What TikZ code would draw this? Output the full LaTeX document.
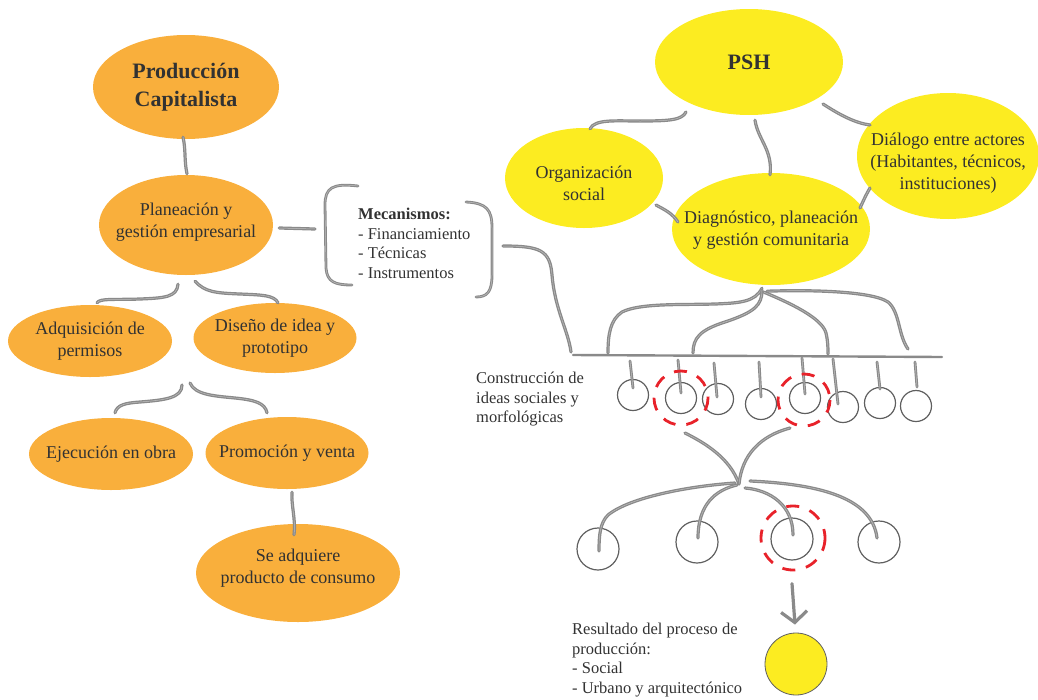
\documentclass[tikz,border=0pt]{standalone}
\usepackage{fontspec}
\setmainfont{Liberation Serif}
\usetikzlibrary{shapes.geometric,calc,arrows.meta}
\definecolor{ocre}{RGB}{249,175,60}
\definecolor{limon}{RGB}{252,236,33}
\definecolor{tinta}{RGB}{50,50,50}
\definecolor{pincel}{RGB}{138,138,138}
\definecolor{rojo}{RGB}{232,34,42}
\definecolor{aro}{RGB}{95,95,95}

\begin{document}
\begin{tikzpicture}[x=1pt,y=-1pt,
  globo/.style={ellipse, inner sep=0pt},
  globoN/.style={globo, fill=ocre},
  globoY/.style={globo, fill=limon},
  rotulo/.style={align=center, text=tinta, inner sep=0pt, font=\fontsize{18}{22}\selectfont},
  titulo/.style={align=center, text=tinta, inner sep=0pt, font=\fontsize{22}{28}\selectfont\bfseries},
  nota/.style={align=left, text=tinta, inner sep=0pt, anchor=north west, font=\fontsize{16.5}{19.5}\selectfont},
  brush/.style={draw=pincel, line width=3.2pt, line cap=round, line join=round,
    postaction={draw=white, line width=0.5pt, opacity=0.45}},
  flecha/.style={draw=pincel, line width=3.2pt, line cap=round, line join=round,
    -{Straight Barb[length=11pt,width=26pt]}},
  tallo/.style={brush, line width=2.8pt},
  barra/.style={draw=pincel, line width=2.4pt, line cap=round},
  punto/.style={circle, draw=aro, line width=1.2pt, inner sep=0pt},
  anillo/.style={draw=rojo, line width=2.8pt, dash pattern=on 13pt off 11pt}
]
\useasboundingbox (0,0) rectangle (1038,699);

% ---- capitalist production branch ----
\node[globoN, minimum width=186, minimum height=104] (pc) at (186,87) {};
\node[titulo] (pcT) at (pc.center) {Producción\\Capitalista};
\node[globoN, minimum width=174, minimum height=100] (pge) at (186,225) {};
\node[rotulo] (pgeT) at ($(pge.center)+(0,-3)$) {Planeación y\\gestión empresarial};
\node[globoN, minimum width=164, minimum height=72] (adq) at (90,341) {};
\node[rotulo] (adqT) at (adq.center) {Adquisición de\\permisos};
\node[globoN, minimum width=163, minimum height=70] (dis) at (275,338) {};
\node[rotulo] (disT) at (dis.center) {Diseño de idea y\\prototipo};
\node[globoN, minimum width=164, minimum height=72] (eje) at (111,454) {};
\node[rotulo] (ejeT) at (eje.center) {Ejecución en obra};
\node[globoN, minimum width=163, minimum height=72] (pro) at (287,453) {};
\node[rotulo] (proT) at (pro.center) {Promoción y venta};
\node[globoN, minimum width=204, minimum height=98] (sac) at (298,573) {};
\node[rotulo] (sacT) at ($(sac.center)+(0,-5)$) {Se adquiere\\producto de consumo};

% ---- social production branch ----
\node[globoY, minimum width=188, minimum height=106] (psh) at (749,62) {};
\node[titulo] (pshT) at (psh.center) {PSH};
\node[globoY, minimum width=158, minimum height=100] (org) at (584,178) {};
\node[rotulo] (orgT) at ($(org.center)+(0,5)$) {Organización\\social};
\node[globoY, minimum width=182, minimum height=126] (dlg) at (948,156) {};
\node[rotulo] (dlgT) at ($(dlg.center)+(0,7)$) {Diálogo entre actores\\(Habitantes, técnicos,\\instituciones)};
\node[globoY, minimum width=198, minimum height=112] (dia) at (771,229) {};
\node[rotulo] (diaT) at ($(dia.center)+(0,1)$) {Diagnóstico, planeación\\y gestión comunitaria};

% ---- notes ----
\node[nota] (mec) at (358,208) {\textbf{Mecanismos:}\\- Financiamiento\\- Técnicas\\- Instrumentos};
\node[nota] (cons) at (476,372) {Construcción de\\ideas sociales y\\morfológicas};
\node[nota] (resT) at (572,623) {Resultado del proceso de\\producción:\\- Social\\- Urbano y arquitectónico};

% ---- left connectors ----
\draw[brush] ($(pc.south)+(-3,-2)$) .. controls (186,150) and (184,160) .. ($(pge.north)+(1,-1)$);
\coordinate (bkL) at (315,229);
\draw[brush] ($(pge.east)+(6,3)$) -- (bkL);
\draw[brush] ($(pge.south)+(-8,9)$) .. controls (177,297) and (165,298) .. (140,299)
  .. controls (115,300) and (100,298) .. ($(adq.north)+(7,-2)$);
\draw[brush] ($(pge.south)+(9,6)$) .. controls (205,292) and (215,293) .. (240,294)
  .. controls (262,295) and (274,295) .. ($(dis.north)+(3,0)$);
\coordinate (mid) at (186,383);
\draw[brush] ($(mid)+(-4,2)$) .. controls (182,398) and (165,400) .. (140,402)
  .. controls (125,403) and (117,405) .. ($(eje.north)+(4,-5)$);
\draw[brush] ($(mid)+(4,0)$) .. controls (195,395) and (215,396) .. (235,398)
  .. controls (255,400) and (265,403) .. ($(pro.north)+(-20,-4)$);
\draw[brush] ($(pro.south)+(5,3)$) .. controls (291,505) and (296,520) .. ($(sac.north)+(-4,11)$);

% brackets around the mechanisms
\draw[brush, line width=2.8pt] (358,186) .. controls (332,183) and (325,188) .. (325,205)
  -- (326,268) .. controls (327,282) and (335,285) .. (352,285);
\draw[brush, line width=2.8pt] (466,202) .. controls (487,203) and (492,210) .. (492,228)
  -- (492,275) .. controls (492,292) and (487,297) .. (476,297);

% ---- bar of social and morphological ideas ----
\coordinate (barL) at (573,355);
\coordinate (barR) at (942,357);
\draw[barra] (barL) -- (barR);
\coordinate (bkR) at (503,246);
\draw[brush] (bkR) .. controls (540,246) and (550,250) .. (552,275)
  .. controls (555,310) and (568,330) .. ($(barL)+(-2,-3)$);

% ---- right connectors ----
\draw[brush] ($(psh.center)+(-63,50)$) .. controls (682,120) and (670,121) .. (640,121)
  .. controls (615,121) and (595,119) .. ($(org.north)+(6,1)$);
\draw[brush] ($(psh.south)+(6,5)$) .. controls (758,140) and (773,150) .. ($(dia.north)+(-1,2)$);
\draw[brush] ($(psh.center)+(74,42)$) .. controls (840,115) and (855,123) .. ($(dlg.center)+(-78,-31)$);
\draw[brush] ($(org.center)+(72,27)$) .. controls (665,210) and (672,213) .. ($(dia.center)+(-93,-7)$);
\draw[brush] ($(dlg.center)+(-78,32)$) .. controls (866,195) .. ($(dia.center)+(89,-21)$);

% fan from the community node down to the bar
\coordinate (j1) at (608,353);
\coordinate (j2) at (693,353);
\coordinate (j3) at (828,354);
\coordinate (j4) at (908,349);
\draw[brush] ($(dia.south)+(-9,3)$) .. controls (755,302) and (740,303) .. (715,304)
  .. controls (680,305) and (640,303) .. (622,312) .. controls (610,320) and (608,335) .. (j1);
\draw[brush] ($(dia.south)+(-9,5)$) .. controls (762,305) and (755,312) .. (725,322)
  .. controls (700,330) and (693,338) .. (j2);
\draw[brush] ($(dia.south)+(-7,7)$) .. controls (790,303) and (822,318) .. (826,333)
  .. controls (828,342) and (828,348) .. (j3);
\draw[brush] ($(dia.south)+(-4,6)$) .. controls (800,290) and (870,290) .. (888,302)
  .. controls (900,312) and (898,335) .. (j4);

% ---- small idea circles ----
\foreach \n/\x/\y in {1/633/395, 2/681/398, 3/718/399, 4/761/404, 5/805/398, 6/843/407, 7/880/403, 8/916/406}
  \node[punto, minimum size=31] (c\n) at (\x,\y) {};
\foreach \n/\tx/\ty/\bx/\by in {1/630/361/0/-7, 2/678/360/0/-5, 3/714/363/-1/-2, 4/759/362/0/-7,
    5/802/358/0/-4, 6/833/359/-5/-3, 7/877/362/0/-14, 8/915/362/1/-19}{
  \coordinate (s\n) at (\tx,\ty);
  \draw[tallo] (s\n) -- ($(c\n.center)+(\bx,\by)$);
}
\draw[anillo] (c2.center) circle[radius=27];
\draw[anillo] ($(c5.center)+(-1,2)$) circle[radius=26];

% ---- convergence and second level ----
\coordinate (conv) at (739,484);
\draw[brush] ($(c2.center)+(4,35)$) .. controls (705,443) and (730,458) .. (conv);
\draw[brush] ($(c5.center)+(-15,30)$) .. controls (760,436) and (742,455) .. (conv);

\foreach \n/\x/\y in {1/598/549, 2/697/542, 3/792/539, 4/879/542}
  \node[punto, minimum size=42] (d\n) at (\x,\y) {};
\draw[brush] ($(conv)+(-4,-1)$) .. controls (690,486) and (630,497) .. (608,515)
  .. controls (600,523) and (599,535) .. ($(d1.center)+(1,2)$);
\draw[brush] ($(conv)+(-2,1)$) .. controls (715,490) and (698,505) .. ($(d2.center)+(1,-4)$);
\draw[brush] ($(conv)+(6,4)$) .. controls (770,490) and (793,505) .. ($(d3.center)+(1,-4)$);
\draw[brush] ($(conv)+(11,-3)$) .. controls (815,484) and (872,496) .. ($(d4.center)+(-2,-4)$);
\draw[anillo] ($(d3.center)+(1,-1)$) circle[radius=32];

% ---- result ----
\node[circle, fill=limon, draw=aro, line width=0.8pt, inner sep=0pt, minimum size=62] (res) at (796,664) {};
\draw[flecha] ($(d3.south)+(0,23)$) -- ($(res.north)+(-1,-8)$);

\end{tikzpicture}
\end{document}
